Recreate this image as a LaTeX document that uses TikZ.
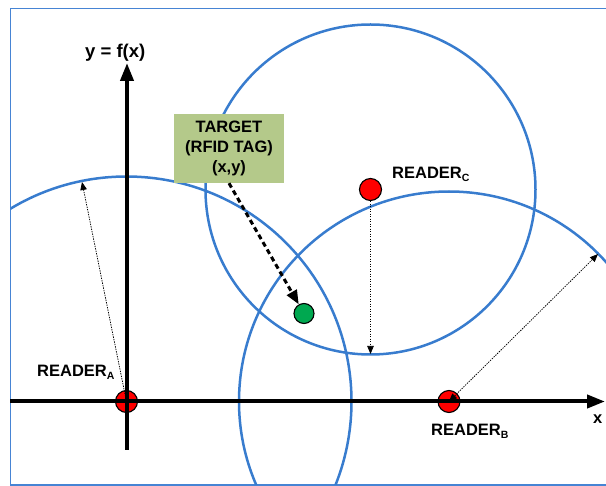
\documentclass[tikz,border=0pt]{standalone}
\usepackage{fontspec}
\setmainfont{Liberation Sans}
\usetikzlibrary{arrows.meta}
\definecolor{ringblue}{RGB}{56,124,206}
\definecolor{frameblue}{RGB}{70,132,212}
\definecolor{tagfill}{RGB}{180,201,138}
\definecolor{tgreen}{RGB}{0,168,80}
\newcommand\rdsub[1]{\raisebox{-2.2pt}{\fontsize{10.5}{10}\selectfont #1}}
\begin{document}
\begin{tikzpicture}[x=1pt,y=-1pt,
  ring/.style={draw=ringblue,line width=2.5pt},
  reader/.style={circle,draw=black,fill=red,line width=1.1pt,minimum size=22pt,inner sep=0pt},
  tagdot/.style={circle,draw=black,fill=tgreen,line width=1.1pt,minimum size=20pt,inner sep=0pt},
  lbl/.style={font=\fontsize{16.5}{20}\selectfont\bfseries,inner sep=0pt,anchor=base west},
  rarrow/.style={dash pattern=on 1.4pt off 1.1pt,line width=0.75pt,-{Triangle[length=8pt,width=6.5pt]}},
  axisline/.style={line width=4pt,-{Triangle[length=18pt,width=13pt]}},
  tagbox/.style={fill=tagfill,minimum width=110pt,minimum height=69pt,inner sep=0pt,align=center,
    font=\fontsize{16.5}{20}\selectfont\bfseries}
]
\useasboundingbox (0,0) rectangle (606,486);
% frame
\draw[frameblue,line width=1.4pt] (620,8.5) -- (10.5,8.5) -- (10.5,485) -- (620,485);
% range circles
\begin{scope}
  \clip (10.5,8.5) rectangle (610,485);
  \draw[ring] (126.5,401.5) circle[radius=225pt];
  \draw[ring] (449,401.5) circle[radius=210pt];
  \draw[ring] (370.5,189.5) circle[radius=165pt];
\end{scope}
% readers
\node[reader] (rA) at (126.5,401.5) {};
\node[reader] (rB) at (449,401.5) {};
\node[reader] (rC) at (370.5,189.5) {};
% axes
\coordinate (xs) at (10,401.5);
\coordinate (xe) at (605,401.5);
\coordinate (ys) at (127,450);
\coordinate (ye) at (127,63);
\draw[axisline] (xs) -- (xe);
\draw[axisline] (ys) -- (ye);
% radius arrows
\coordinate (eA) at (82,182);
\coordinate (eB) at (598,254);
\coordinate (eC) at (370.5,354);
\draw[rarrow] (rA.center) -- (eA);
\draw[rarrow,{Triangle[length=8pt,width=6.5pt]}-{Triangle[length=8pt,width=6.5pt]}] (rB.center) -- (eB);
\draw[rarrow] (rC.south) -- (eC);
% target
\node[tagbox] (box) at (229,148.5) {TARGET\\(RFID TAG)\\(x,y)};
\node[tagdot] (tg) at (304,313.5) {};
\draw[line width=3pt,dash pattern=on 5pt off 3.5pt,-{Triangle[length=14pt,width=11pt]}] (box.south) -- (tg);
% labels
\node[lbl,font=\fontsize{18.5}{20}\selectfont\bfseries] (ylab) at (85,58) {y = f(x)};
\node[lbl] (xlab) at (593,424) {x};
\node[lbl] (lA) at (37,377) {READER\rdsub{A}};
\node[lbl] (lB) at (431,436) {READER\rdsub{B}};
\node[lbl] (lC) at (392,179) {READER\rdsub{C}};
\end{tikzpicture}
\end{document}
